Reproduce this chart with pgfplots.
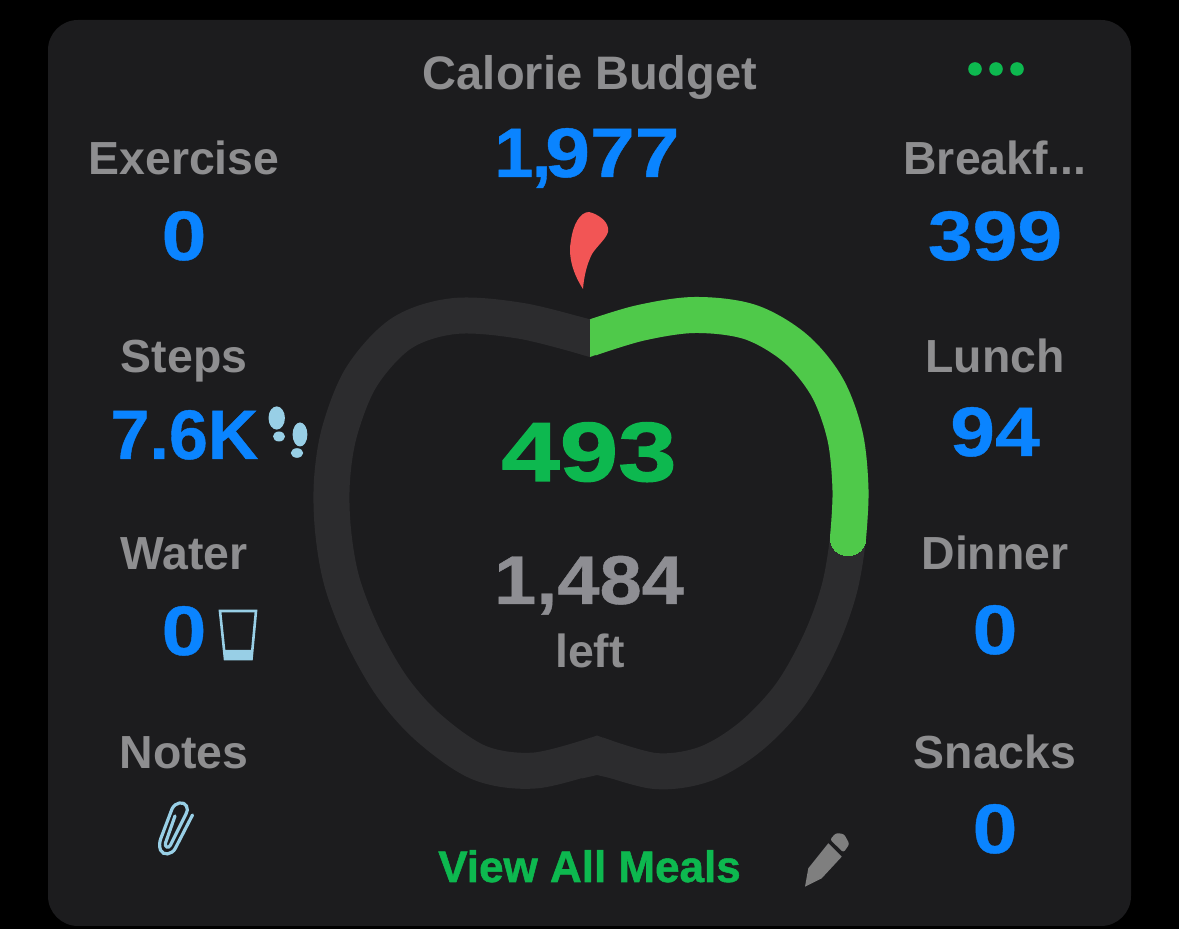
\documentclass[border=0pt]{standalone}
\usepackage{fontspec}
\usepackage{pgfplots}
\pgfplotsset{compat=1.18}
\setmainfont{Liberation Sans}
\newfontfamily\vf[FakeStretch=1.15,FakeBold=0.6]{Liberation Sans}
\newfontfamily\vn[FakeBold=0.6]{Liberation Sans}
\newfontfamily\vg[FakeStretch=1.25,FakeBold=1.4]{Liberation Sans}
\newfontfamily\vh[FakeStretch=1.1,FakeBold=0.6]{Liberation Sans}
\newfontfamily\vm[FakeBold=1.2]{Liberation Sans}
\definecolor{bg}{HTML}{1C1C1E}
\definecolor{ringc}{HTML}{2C2C2E}
\definecolor{greenr}{HTML}{4FC94A}
\definecolor{greent}{HTML}{0DB84F}
\definecolor{bluet}{HTML}{0A84FF}
\definecolor{greyt}{HTML}{8E8E90}
\definecolor{greyn}{HTML}{8E8E93}
\definecolor{redc}{HTML}{F25555}
\definecolor{iconc}{HTML}{98CFE6}
\definecolor{pencilc}{HTML}{7F7F7F}
\tikzset{
  lab/.style={anchor=base, inner sep=0pt, outer sep=0pt, text=greyt, font=\fontsize{23.2}{23.2}\selectfont\bfseries},
  val/.style={anchor=base, inner sep=0pt, outer sep=0pt, text=bluet, font=\fontsize{35}{35}\selectfont\vf\bfseries},
}
\begin{document}
\begin{tikzpicture}
\begin{axis}[
  scale only axis, width=589.5pt, height=464.5pt,
  xmin=0, xmax=1179, ymin=0, ymax=929, y dir=reverse,
  hide axis, clip=false,
]
\fill[black] (0,0) rectangle (1179,929);
\fill[bg, rounded corners=15pt] (48,20) rectangle (1131,926);

% ring, right half
\addplot[ringc, line width=18pt, smooth, tension=0.55, mark=none] coordinates {
 (590,338.3) (640,323) (695,315) (750,322) (795,348) (827,387) (845,436) (850.5,490) (848,538)
 (839,590) (820,642) (790,695) (750,737) (705,764) (655,771) (597,754.5)};
% ring, left half
\addplot[ringc, line width=18pt, smooth, tension=0.55, mark=none] coordinates {
 (597,754.5) (535,770.5) (480,763) (430,729) (393,688) (363,636) (342,582) (333,530)
 (332,480) (340,430) (362,376) (402,333) (455,316) (522,321) (590,338.3)};
\fill[ringc] (597,735.5) -- (612,741) -- (612,778.5) -- (597,775) -- (582,778.5) -- (582,741) -- cycle;
% consumed part
\addplot[greenr, line width=18pt, smooth, tension=0.55, mark=none] coordinates {
 (590,338.3) (640,323) (695,315) (750,322) (795,348) (827,387) (845,436) (850.5,490) (848,538)};
\addplot[only marks, mark=*, mark size=8.9pt, line width=0pt, color=greenr, mark options={draw=greenr, fill=greenr}] coordinates {(848,538)};
\fill[ringc] (590.5,319.5) -- (576,315.8) -- (572,351.5) -- (590.5,357.3) -- cycle;
\fill[greenr] (590,319.5) -- (600,316.5) -- (604,352) -- (590,357) -- cycle;

% stem
\fill[redc] (583,289) .. controls (572,272) and (568,255) .. (571,240)
  .. controls (573,225) and (580,212) .. (589,212)
  .. controls (598,214) and (610,222) .. (608,232)
  .. controls (606,239) and (597,246) .. (592,254)
  .. controls (587,264) and (584,276) .. (583,289) -- cycle;

% dots
\fill[greent] (975,69) circle[radius=3.4pt];
\fill[greent] (996,69) circle[radius=3.4pt];
\fill[greent] (1017,69) circle[radius=3.4pt];

% centre
\node[lab, font=\fontsize{23.5}{23.5}\selectfont\bfseries] at (590,90) {Calorie Budget};
\node[val] at (589,177) {{\vn\bfseries\kern-2pt 1\kern-0.8pt,\kern-3pt}977};
\node[anchor=base, inner sep=0pt, text=greent, font=\fontsize{42}{42}\selectfont\vg\bfseries] at (589,481) {493};
\node[anchor=base, inner sep=0pt, text=greyn, font=\fontsize{34.5}{34.5}\selectfont\vh\bfseries] at (589,604) {1,484};
\node[lab] at (590,668) {left};
\node[anchor=base, inner sep=0pt, text=greent, font=\fontsize{22}{22}\selectfont\vm\bfseries] at (589.5,882) {View All Meals};

% left column
\node[lab] at (184,175) {Exercise};
\node[val] at (184,260) {0};
\node[lab] at (184,373) {Steps};
\node[anchor=base, inner sep=0pt, text=bluet, font=\fontsize{35}{35}\selectfont\vn\bfseries] at (184.5,459) {7.6K};
\node[lab] at (184,570) {Water};
\node[val] at (184,655) {0};
\node[lab] at (184,769) {Notes};

% right column
\node[lab] at (995,175) {Breakf...};
\node[val] at (995,260) {399};
\node[lab] at (995,373) {Lunch};
\node[val] at (995,456) {94};
\node[lab] at (995,570) {Dinner};
\node[val] at (995,654) {0};
\node[lab] at (995,769) {Snacks};
\node[val] at (995,853) {0};

% footprints
\fill[iconc] (276.7,418) ellipse[x radius=4.1pt, y radius=5.8pt];
\fill[iconc] (279,436.5) ellipse[x radius=3pt, y radius=2.5pt];
\fill[iconc] (300,434.5) ellipse[x radius=3.7pt, y radius=6pt];
\fill[iconc] (297,453) ellipse[x radius=3.1pt, y radius=2.4pt];
% glass
\draw[iconc, line width=1.3pt] (220,611) -- (256,611) -- (251.5,659) -- (225,659) -- cycle;
\fill[iconc] (223.5,650) -- (252.6,650) -- (251.5,659.5) -- (224.8,659.5) -- cycle;
% paperclip
\draw[iconc, line width=1.6pt, line cap=round]
  (192.5,815) -- (175.5,848) .. controls (172,855) and (163,856) .. (160.5,850)
  .. controls (159,846) and (159.5,842) .. (161,838) -- (172,809)
  .. controls (175,802) and (184,801) .. (186.5,806)
  .. controls (188,809) and (187.5,811) .. (186,814) -- (170.5,845)
  .. controls (168.5,849) and (164.5,847) .. (165.5,843) -- (175,816);
% pencil
\fill[pencilc] (805,886.7) -- (808.3,868.3) -- (828.3,843.3) -- (841.7,856.7) -- (821.7,878.3) -- cycle;
\fill[pencilc, rounded corners=1.2pt] (830,839.5) -- (836,833) -- (844,834) -- (849.5,844) -- (843.5,852.5) -- cycle;
\end{axis}
\end{tikzpicture}
\end{document}
